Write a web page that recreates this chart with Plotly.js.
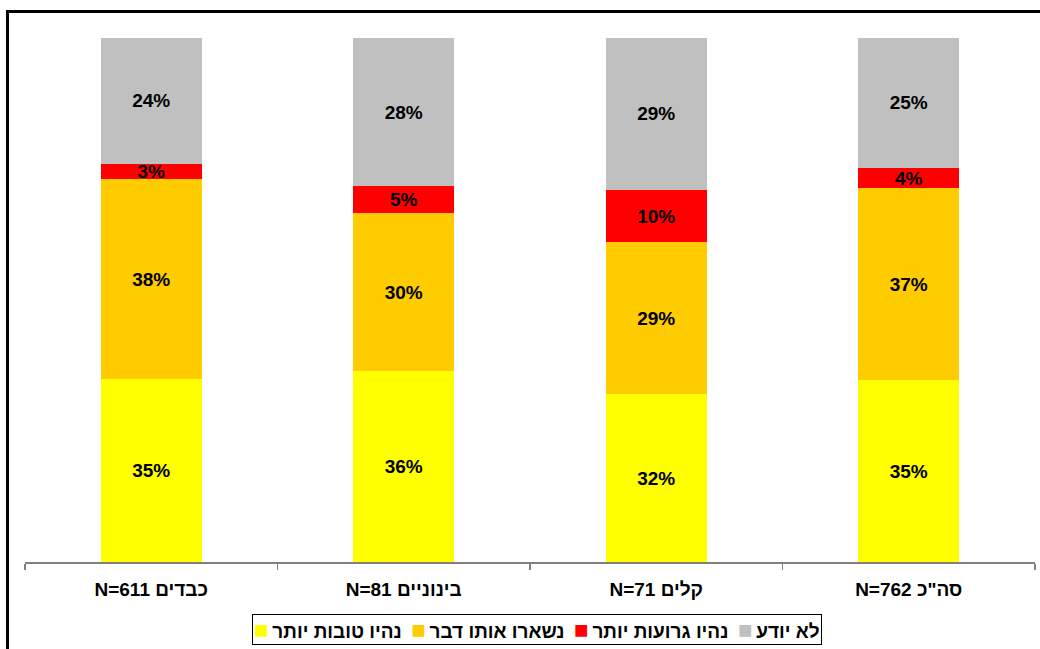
<!DOCTYPE html>
<html>
<head>
<meta charset="utf-8">
<script src="https://cdn.plot.ly/plotly-3.0.1.min.js"></script>
<style>
  html, body { margin: 0; padding: 0; background: #fff; overflow: hidden; }
  #frame { position: absolute; left: 6px; top: 10px; width: 1100px; height: 700px; border: 3px solid #000; box-sizing: border-box; pointer-events: none; z-index: 2; }
  #chart { position: absolute; left: 0; top: 0; width: 1040px; height: 649px; }
</style>
</head>
<body>
<div id="chart"></div>
<div id="frame"></div>
<script>
const categories = ['N=611 כבדים', 'N=81 בינוניים', 'N=71 קלים', 'N=762 סה"כ'];
const seriesNames = ['נהיו טובות יותר', 'נשארו אותו דבר', 'נהיו גרועות יותר', 'לא יודע'];
const better = [35, 36, 32, 35];
const same = [38, 30, 29, 37];
const worse = [3, 5, 10, 4];
const dontKnow = [24, 28, 29, 25];
const colors = ['#FFFF00', '#FFCC00', '#FF0000', '#C0C0C0'];

const values = [better, same, worse, dontKnow];
const traces = values.map((v, i) => ({
  type: 'bar',
  name: seriesNames[i],
  x: categories,
  y: v,
  text: v.map(d => d + '%'),
  textposition: 'inside',
  insidetextanchor: 'middle',
  textangle: 0,
  constraintext: 'none',
  textfont: { family: 'Liberation Sans, Arial, sans-serif', size: 19, color: '#000', weight: 'bold' },
  marker: { color: colors[i], line: { width: 0 } },
  hoverinfo: 'none',
  showlegend: false
}));

// Legend (built from the series names and colours), laid out left to right
const legendText = seriesNames
  .map((n, i) => '<span style="color:' + colors[i] + ';font-size:24px">■</span>\u2009' + n + '\u200E')
  .join('\u2002');

const layout = {
  width: 1040,
  height: 649,
  margin: { l: 25, r: 5, t: 38, b: 87, autoexpand: false },
  barmode: 'stack',
  barnorm: 'percent',
  bargap: 0.6,
  paper_bgcolor: '#fff',
  plot_bgcolor: '#fff',
  font: { family: 'Liberation Sans, Arial, sans-serif', color: '#000' },
  showlegend: false,
  annotations: [{
    xref: 'paper', yref: 'paper',
    x: 0.507, y: -0.1288,
    xanchor: 'center', yanchor: 'middle',
    showarrow: false,
    text: legendText,
    font: { size: 19, weight: 'bold', color: '#000' },
    bordercolor: '#000', borderwidth: 1, borderpad: 1,
    bgcolor: '#fff'
  }],
  xaxis: {
    type: 'category',
    automargin: false,
    showline: true, linecolor: '#808080', linewidth: 1.5,
    ticks: 'outside', tickson: 'boundaries', ticklen: 6, tickcolor: '#808080', tickwidth: 1.5,
    ticklabelstandoff: 10,
    tickfont: { size: 19, weight: 'bold' },
    showgrid: false, zeroline: false
  },
  yaxis: {
    range: [0, 100],
    visible: false,
    automargin: false,
    showgrid: false, zeroline: false
  }
};

Plotly.newPlot('chart', traces, layout, { displayModeBar: false, staticPlot: true });
</script>
</body>
</html>
